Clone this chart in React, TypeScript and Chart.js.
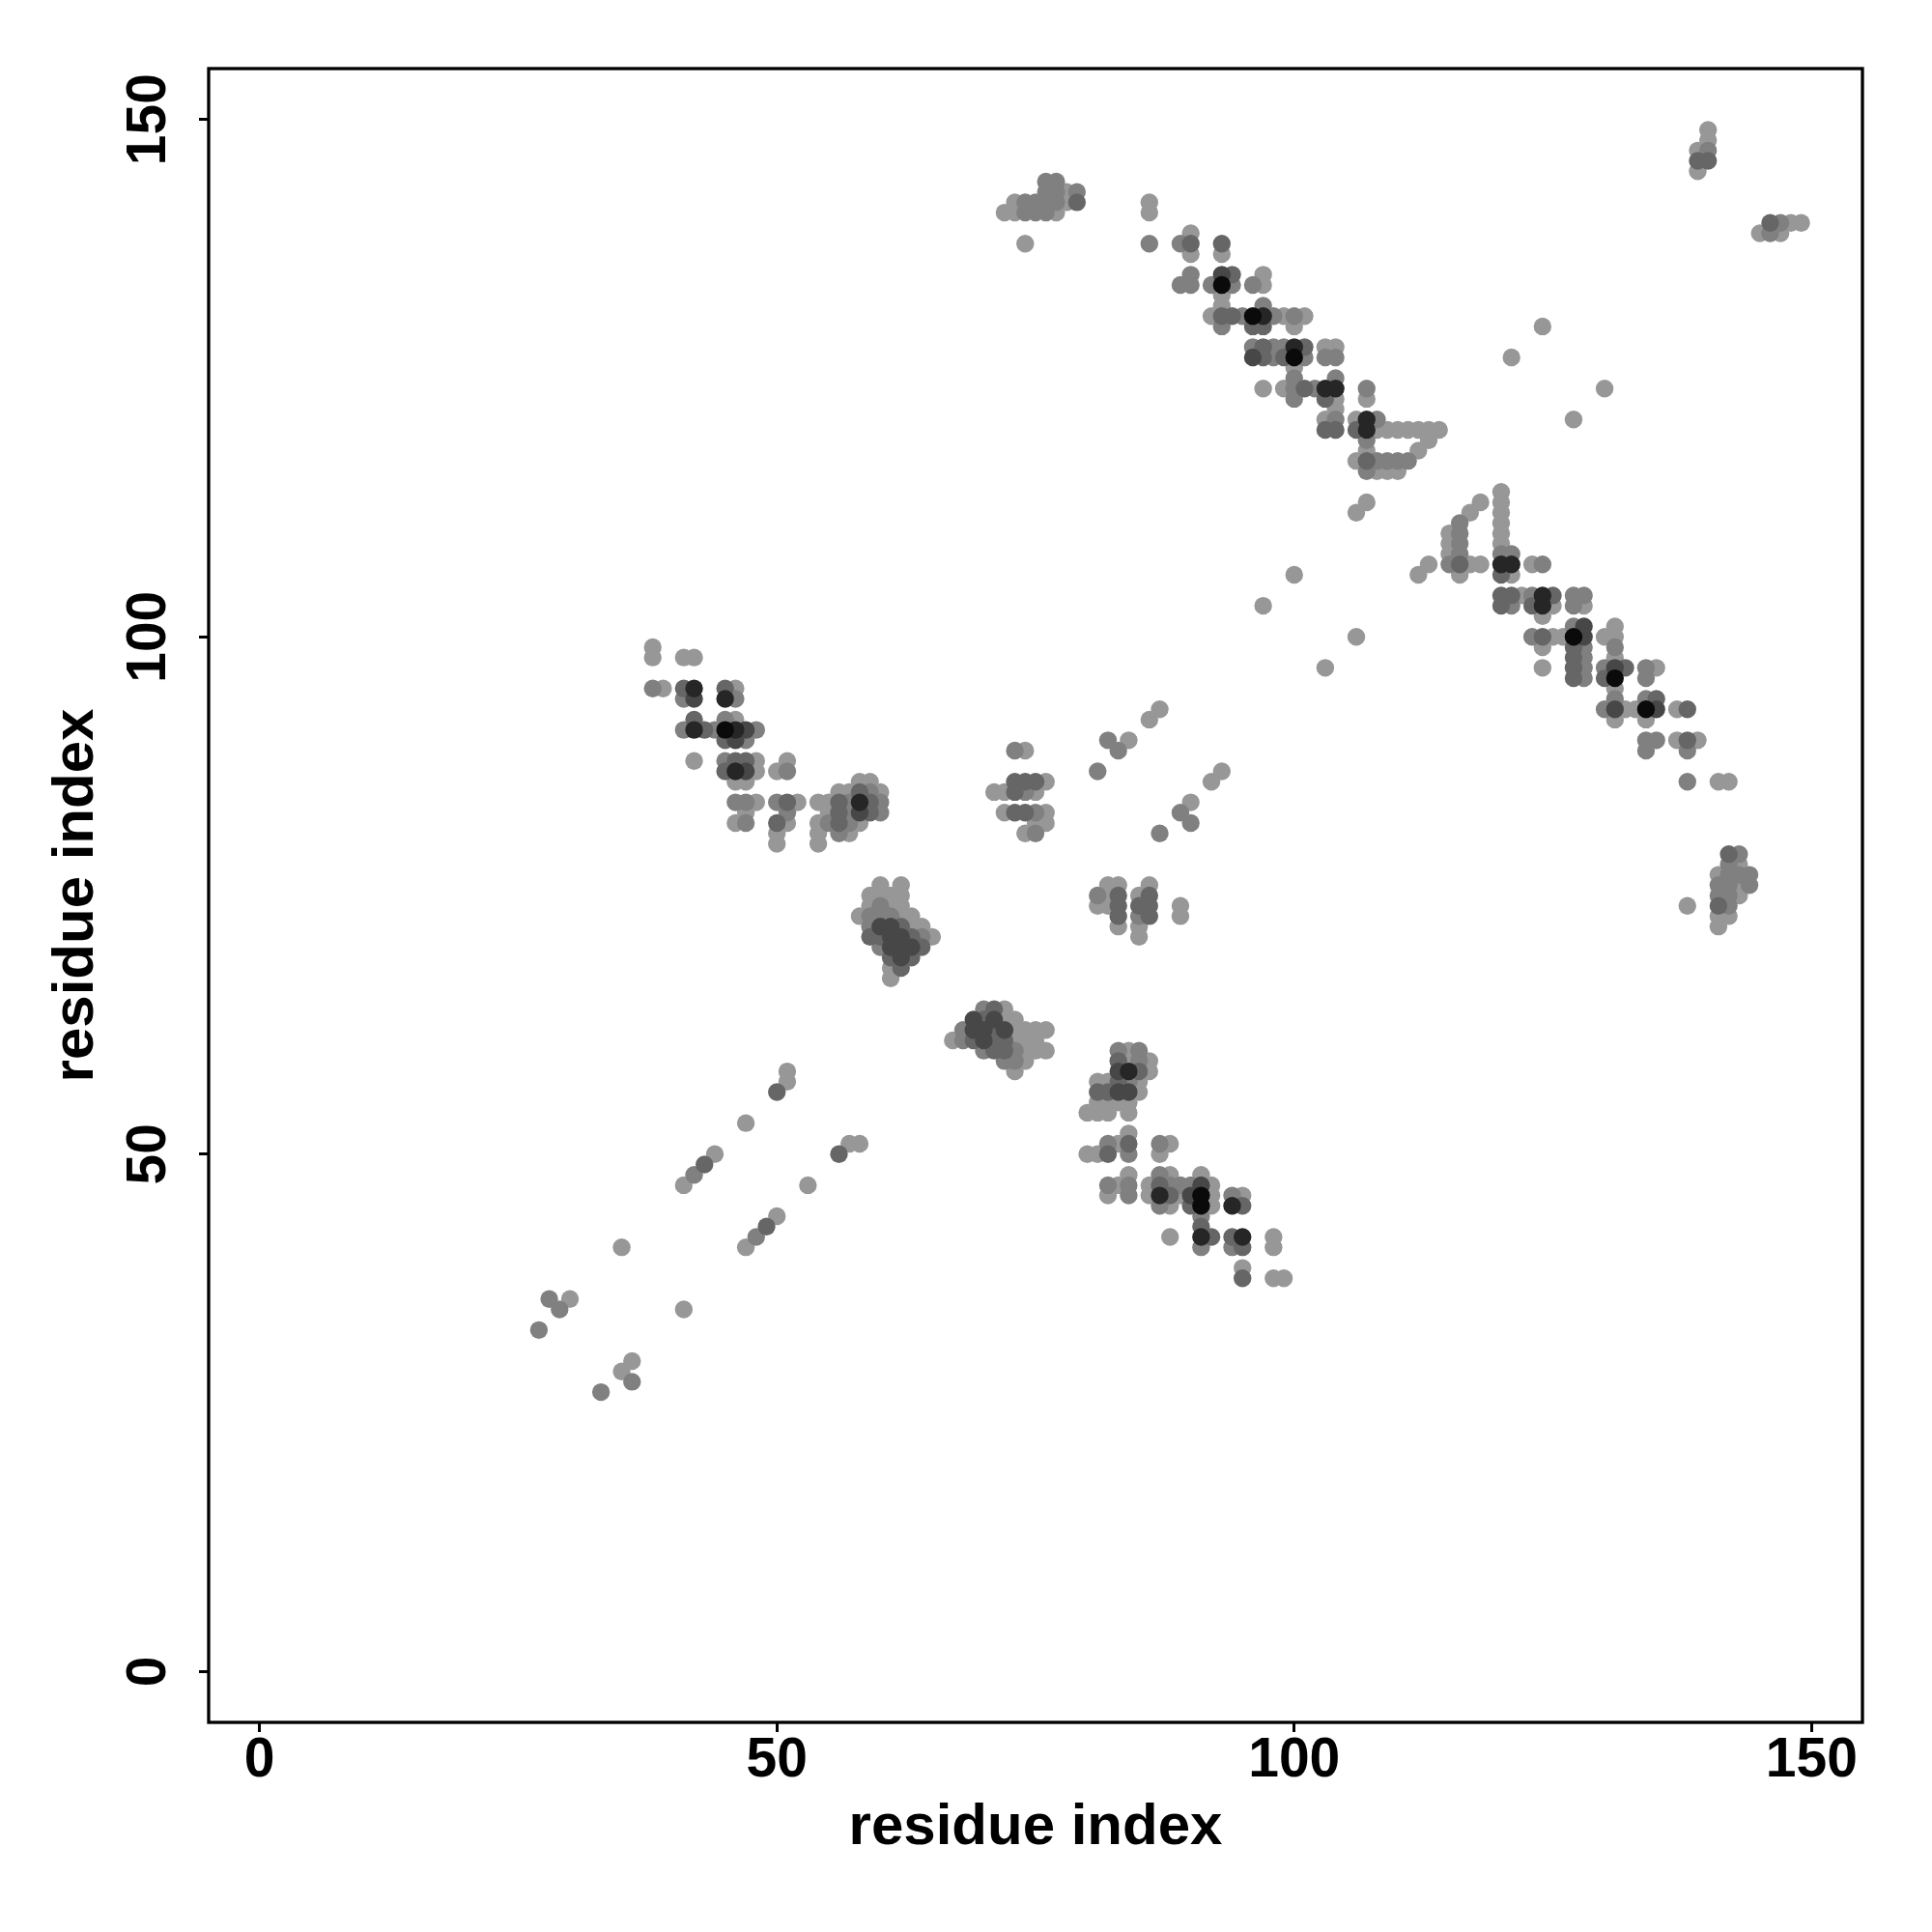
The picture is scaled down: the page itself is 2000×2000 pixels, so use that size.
import { useEffect, useRef } from "react";
import { Chart, registerables } from "chart.js";

Chart.register(...registerables);

// ---------- data ----------
const axisTicks = [0, 50, 100, 150];
const axisTitleX = "residue index";
const axisTitleY = "residue index";
const axisMin = -4.92;
const axisMax = 154.92;
// contact strength level -> gray
const grayLevels = ["#979797", "#808080", "#666666", "#474747", "#262626", "#0a0a0a"];

type Contact = [number, number, number]; // [i, j, level]

const lowerLeftContacts: Contact[] = [
  [51, 58, 1], [51, 57, 1], [50, 56, 3], [47, 53, 1], [44, 50, 1], [43, 49, 3], [42, 48, 2], [41, 47, 1],
  [56, 50, 3], [57, 51, 1], [58, 51, 1], [53, 47, 1], [50, 44, 1], [49, 43, 3], [48, 42, 2], [47, 41, 1],
  [35, 41, 1], [41, 35, 1], [28, 36, 2], [30, 36, 1], [29, 35, 2], [27, 33, 2],
  [36, 30, 1], [35, 29, 1], [36, 28, 2], [33, 27, 2],
];

const midLeftContacts: Contact[] = [
  [38, 99, 1], [38, 98, 1], [41, 98, 1], [42, 98, 1],
  [38, 95, 2], [39, 95, 1], [41, 95, 3], [42, 95, 5], [41, 94, 2], [42, 94, 4],
  [45, 95, 3], [46, 95, 1], [45, 94, 5], [46, 94, 2],
  [42, 92, 3], [45, 92, 2], [46, 92, 1],
  [41, 91, 2], [42, 91, 5], [43, 91, 3], [44, 91, 2], [45, 91, 6], [46, 91, 5], [47, 91, 4], [48, 91, 2],
  [45, 90, 3], [46, 90, 4], [47, 90, 2],
  [42, 88, 1], [45, 88, 2], [46, 88, 3], [47, 88, 3], [48, 88, 1],
  [45, 87, 3], [46, 87, 5], [47, 87, 4], [48, 87, 1],
  [46, 86, 1], [47, 86, 1],
  [50, 87, 1], [51, 88, 1], [51, 87, 2],
  [46, 84, 2], [47, 84, 2], [48, 84, 1], [50, 84, 2], [51, 84, 3], [52, 84, 1], [54, 84, 1],
  [47, 83, 1], [46, 82, 1], [47, 82, 2], [51, 83, 2], [50, 82, 3], [51, 82, 1], [50, 81, 1], [50, 80, 1],
  [54, 82, 1], [54, 81, 1], [54, 80, 1],
  [58, 86, 1], [59, 86, 1],
  [56, 85, 1], [57, 85, 1], [58, 85, 3], [59, 85, 2], [60, 85, 1],
  [55, 84, 1], [56, 84, 3], [57, 84, 2], [58, 84, 5], [59, 84, 3], [60, 84, 2],
  [55, 83, 1], [56, 83, 3], [57, 83, 2], [58, 83, 4], [59, 83, 3], [60, 83, 2],
  [55, 82, 2], [56, 82, 3], [57, 82, 2], [58, 82, 1],
  [56, 81, 2], [57, 81, 1],
];

const centreContacts: Contact[] = [
  [60, 76, 1], [62, 76, 1],
  [59, 75, 1], [60, 75, 1], [61, 75, 1], [62, 75, 1],
  [59, 74, 1], [60, 74, 2], [61, 74, 1], [62, 74, 1],
  [58, 73, 1], [59, 73, 2], [60, 73, 2], [61, 73, 2], [62, 73, 1], [63, 73, 1],
  [59, 72, 2], [60, 72, 4], [61, 72, 4], [62, 72, 3], [63, 72, 1], [64, 72, 1],
  [59, 71, 3], [60, 71, 3], [61, 71, 4], [62, 71, 4], [63, 71, 3], [64, 71, 2], [65, 71, 1],
  [60, 70, 2], [61, 70, 4], [62, 70, 4], [63, 70, 4], [64, 70, 3],
  [61, 69, 3], [62, 69, 4], [63, 69, 3],
  [61, 68, 1], [62, 68, 3], [61, 67, 1],
  [70, 64, 2], [71, 64, 3], [72, 64, 1],
  [69, 63, 4], [70, 63, 3], [71, 63, 4], [72, 63, 1], [73, 63, 1],
  [68, 62, 2], [69, 62, 4], [70, 62, 4], [71, 62, 3], [72, 62, 4], [73, 62, 1], [74, 62, 1], [75, 62, 1], [76, 62, 1],
  [67, 61, 1], [68, 61, 2], [69, 61, 3], [70, 61, 4], [71, 61, 3], [72, 61, 3], [73, 61, 1], [74, 61, 1], [75, 61, 1],
  [70, 60, 2], [71, 60, 3], [72, 60, 3], [73, 60, 2], [74, 60, 1], [75, 60, 1], [76, 60, 1],
  [72, 59, 2], [73, 59, 2], [74, 59, 1], [73, 58, 1],
];

const middleContacts: Contact[] = [
  [73, 89, 2], [74, 89, 1],
  [73, 86, 3], [74, 86, 3], [75, 86, 3], [76, 86, 1],
  [71, 85, 1], [72, 85, 1], [73, 85, 3], [74, 85, 2], [75, 85, 1],
  [72, 83, 1], [73, 83, 3], [74, 83, 3], [75, 83, 2], [76, 83, 1],
  [75, 82, 1], [76, 82, 1], [74, 81, 1], [75, 81, 2],
  [81, 87, 2], [82, 90, 2], [83, 89, 2], [84, 90, 1], [86, 92, 1], [87, 93, 1],
  [87, 81, 2], [89, 83, 2], [90, 82, 2], [90, 84, 1], [92, 86, 1], [93, 87, 1],
  [81, 75, 2], [81, 74, 1], [82, 76, 1], [82, 75, 1], [82, 74, 1],
  [83, 76, 1], [83, 75, 3], [83, 74, 3], [83, 73, 3], [83, 72, 1],
  [85, 75, 1], [85, 74, 3], [85, 73, 2], [85, 72, 1], [85, 71, 1],
  [86, 76, 1], [86, 75, 3], [86, 74, 3], [86, 73, 3], [89, 74, 1], [89, 73, 1],
];

const lowerRightContacts: Contact[] = [
  [83, 60, 2], [84, 60, 1], [85, 60, 2],
  [83, 59, 3], [84, 59, 1], [85, 59, 2], [86, 59, 1],
  [83, 58, 4], [84, 58, 5], [85, 58, 3], [86, 58, 1],
  [81, 57, 1], [82, 57, 1], [83, 57, 3], [84, 57, 2], [85, 57, 1],
  [81, 56, 3], [82, 56, 3], [83, 56, 4], [84, 56, 4], [85, 56, 1],
  [81, 55, 1], [82, 55, 1], [83, 55, 1], [84, 55, 1],
  [80, 54, 1], [81, 54, 1], [82, 54, 1], [84, 54, 1],
  [84, 52, 1],
  [82, 51, 2], [83, 51, 1], [84, 51, 3], [87, 51, 2], [88, 51, 1],
  [80, 50, 1], [81, 50, 1], [82, 50, 3], [84, 50, 2], [87, 50, 1],
  [84, 48, 1], [87, 48, 2], [88, 48, 1], [91, 48, 1],
  [82, 47, 2], [83, 47, 1], [84, 47, 2], [86, 47, 1], [87, 47, 3], [88, 47, 2], [89, 47, 2], [90, 47, 2], [91, 47, 4], [92, 47, 1],
  [82, 46, 1], [84, 46, 2], [86, 46, 1], [87, 46, 5], [88, 46, 3], [89, 46, 1], [90, 46, 4], [91, 46, 6], [92, 46, 1], [94, 46, 2], [95, 46, 1],
  [87, 45, 2], [88, 45, 1], [90, 45, 3], [91, 45, 6], [92, 45, 1], [94, 45, 5], [95, 45, 3],
  [91, 44, 2], [91, 43, 3],
  [88, 42, 1], [91, 42, 5], [92, 42, 3], [94, 42, 3], [95, 42, 5], [98, 42, 1],
  [91, 41, 2], [94, 41, 2], [95, 41, 3], [98, 41, 1],
  [95, 39, 1], [95, 38, 3], [98, 38, 1], [99, 38, 1],
];

const upperBandContacts: Contact[] = [
  [76, 144, 2], [77, 144, 2],
  [76, 143, 2], [77, 143, 2], [78, 143, 1], [79, 143, 2],
  [73, 142, 1], [74, 142, 2], [75, 142, 2], [76, 142, 2], [77, 142, 2], [78, 142, 1], [79, 142, 3],
  [72, 141, 1], [73, 141, 1], [74, 141, 2], [75, 141, 2], [76, 141, 2], [77, 141, 1],
  [74, 138, 1], [86, 142, 1], [86, 141, 1], [86, 138, 2],
  [89, 138, 2], [90, 139, 1], [90, 138, 3], [90, 137, 1], [93, 138, 3], [93, 137, 1],
  [90, 135, 2], [93, 135, 4], [94, 135, 3], [97, 135, 1],
  [89, 134, 2], [90, 134, 2], [92, 134, 2], [93, 134, 6], [94, 134, 2], [96, 134, 2], [97, 134, 1],
  [93, 133, 1], [93, 132, 1], [97, 132, 2],
  [92, 131, 1], [93, 131, 3], [94, 131, 3], [95, 131, 2], [96, 131, 6], [97, 131, 5], [98, 131, 2], [99, 131, 1], [100, 131, 2], [101, 131, 1],
  [93, 130, 2], [96, 130, 3], [97, 130, 3], [100, 130, 1],
  [96, 128, 2], [97, 128, 3], [98, 128, 2], [99, 128, 2], [100, 128, 5], [101, 128, 3], [103, 128, 1], [104, 128, 1],
  [96, 127, 4], [97, 127, 3], [98, 127, 2], [99, 127, 3], [100, 127, 6], [101, 127, 2], [103, 127, 2], [104, 127, 2],
  [100, 126, 1], [100, 125, 2], [104, 125, 2],
  [97, 124, 1], [99, 124, 1], [100, 124, 2], [101, 124, 3], [102, 124, 2], [103, 124, 5], [104, 124, 5], [107, 124, 2],
  [100, 123, 2], [103, 123, 3], [104, 123, 1], [107, 123, 1], [104, 122, 1],
  [103, 121, 1], [104, 121, 2], [106, 121, 1], [107, 121, 5], [108, 121, 2],
  [103, 120, 3], [104, 120, 3], [106, 120, 3], [107, 120, 5], [108, 120, 1], [109, 120, 1], [110, 120, 1],
  [111, 120, 1], [112, 120, 1], [113, 120, 1], [114, 120, 1],
  [113, 119, 1], [112, 118, 1], [107, 119, 2], [107, 118, 1],
  [106, 117, 1], [107, 117, 3], [108, 117, 2], [109, 117, 2], [110, 117, 2], [111, 117, 2],
  [107, 116, 2], [108, 116, 1], [109, 116, 1], [110, 116, 1],
  [107, 113, 1], [106, 112, 1],
];

const rightBandContacts: Contact[] = [
  [115, 110, 1], [115, 109, 1], [115, 108, 1], [115, 107, 2],
  [116, 111, 2], [116, 110, 2], [116, 109, 2], [116, 108, 2], [116, 107, 3], [116, 106, 1],
  [117, 112, 1], [118, 113, 1], [120, 114, 1], [120, 113, 1], [120, 112, 1], [120, 111, 1], [120, 110, 1], [120, 109, 1],
  [120, 108, 2], [121, 108, 2],
  [117, 107, 1], [118, 107, 1], [120, 107, 5], [121, 107, 5], [123, 107, 1], [124, 107, 2],
  [120, 106, 3], [121, 106, 1],
  [120, 104, 3], [121, 104, 3], [122, 104, 1], [123, 104, 2], [124, 104, 5], [125, 104, 3], [127, 104, 2], [128, 104, 2],
  [120, 103, 3], [121, 103, 2], [123, 103, 3], [124, 103, 5], [125, 103, 1], [127, 103, 2], [128, 103, 1],
  [124, 102, 1], [127, 101, 2], [128, 101, 4], [131, 101, 1],
  [123, 100, 2], [124, 100, 3], [125, 100, 1], [126, 100, 1], [127, 100, 6], [128, 100, 4], [130, 100, 1], [131, 100, 1],
  [124, 99, 1], [127, 99, 3], [128, 99, 2], [131, 99, 2],
  [127, 98, 3], [128, 98, 2], [131, 98, 1],
  [124, 97, 1], [127, 97, 3], [128, 97, 2], [130, 97, 2], [131, 97, 4], [132, 97, 3], [134, 97, 2], [135, 97, 1],
  [127, 96, 3], [128, 96, 2], [130, 96, 3], [131, 96, 6], [134, 96, 2],
  [131, 95, 1], [131, 94, 2], [134, 94, 2], [135, 94, 3],
  [130, 93, 2], [131, 93, 4], [132, 93, 1], [133, 93, 1], [134, 93, 6], [135, 93, 4], [137, 93, 1], [138, 93, 3],
  [131, 92, 1], [134, 92, 1],
  [134, 90, 2], [135, 90, 2], [137, 90, 1], [138, 90, 3], [139, 90, 1],
  [134, 89, 2], [138, 89, 2],
  [138, 86, 2], [141, 86, 1], [142, 86, 1],
  [138, 74, 1],
  [142, 79, 3], [143, 79, 2], [142, 78, 2], [143, 78, 1],
  [141, 77, 1], [142, 77, 2], [143, 77, 2], [144, 77, 2],
  [141, 76, 2], [142, 76, 2], [143, 76, 1], [144, 76, 2],
  [141, 75, 2], [142, 75, 2], [143, 75, 1],
  [141, 74, 3], [142, 74, 2], [141, 73, 1], [142, 73, 1], [141, 72, 1],
];

const scatteredContacts: Contact[] = [
  [124, 130, 1], [121, 127, 1], [130, 124, 1], [127, 121, 1],
  [100, 106, 1], [97, 103, 1], [106, 100, 1], [103, 97, 1], [112, 106, 1], [113, 107, 1],
];

const topRightContacts: Contact[] = [
  [140, 149, 1], [140, 148, 1], [140, 147, 2], [140, 146, 3], [139, 147, 1], [139, 146, 3], [139, 145, 1],
  [145, 139, 1], [146, 140, 3], [147, 140, 2], [148, 140, 1], [149, 140, 1], [146, 139, 2], [147, 139, 1],
];

// ---------- chart ----------
const FONT = "'Liberation Sans', Arial, Helvetica, sans-serif";

const framePlugin = {
  id: "frame",
  afterDraw(chart: any) {
    const { ctx, chartArea } = chart;
    ctx.save();
    ctx.strokeStyle = "#000";
    ctx.lineWidth = 3.3;
    ctx.strokeRect(chartArea.left, chartArea.top, chartArea.right - chartArea.left, chartArea.bottom - chartArea.top);
    ctx.restore();
  },
};

const whiteBg = {
  id: "whiteBg",
  beforeDraw(chart: any) {
    const { ctx, width, height } = chart;
    ctx.save();
    ctx.fillStyle = "#fff";
    ctx.fillRect(0, 0, width, height);
    ctx.restore();
  },
};

export default function App() {
  const ref = useRef<HTMLCanvasElement | null>(null);

  useEffect(() => {
    if (!ref.current) return;
    const all: Contact[] = [
      ...lowerLeftContacts,
      ...midLeftContacts,
      ...centreContacts,
      ...middleContacts,
      ...lowerRightContacts,
      ...upperBandContacts,
      ...rightBandContacts,
      ...scatteredContacts,
      ...topRightContacts,
    ];
    const ordered = all
      .map((c, k) => ({ c, k }))
      .sort((a, b) => a.c[2] - b.c[2] || a.k - b.k)
      .map((o) => o.c);

    const tickFont = { family: FONT, size: 57, weight: "bold" as const, lineHeight: 1 };
    const titleFont = { family: FONT, size: 60, weight: "bold" as const, lineHeight: 1 };

    const chart = new Chart(ref.current, {
      type: "scatter",
      data: {
        datasets: [
          {
            data: ordered.map(([x, y]) => ({ x, y })),
            backgroundColor: ordered.map((c) => grayLevels[c[2] - 1]),
            pointRadius: 9.2,
            pointBorderWidth: 0,
            borderWidth: 0,
            pointHoverRadius: 9.2,
          },
        ],
      },
      options: {
        responsive: false,
        animation: false,
        devicePixelRatio: 1,
        events: [],
        layout: { padding: { left: 0, top: 71, right: 72, bottom: 0 } },
        plugins: { legend: { display: false }, tooltip: { enabled: false } },
        scales: {
          x: {
            type: "linear",
            position: "bottom",
            min: axisMin,
            max: axisMax,
            afterBuildTicks: (s: any) => {
              s.ticks = axisTicks.map((v) => ({ value: v }));
            },
            afterFit: (s: any) => {
              s.height = 217;
            },
            ticks: {
              font: tickFont,
              color: "#000",
              padding: 2,
              autoSkip: false,
              minRotation: 0,
              maxRotation: 0,
            },
            grid: { drawOnChartArea: false, drawTicks: true, tickLength: 10, lineWidth: 3, color: "#000" },
            border: { display: false },
            title: { display: true, text: axisTitleX, font: titleFont, color: "#000", padding: { top: 0, bottom: 78 } },
          },
          y: {
            type: "linear",
            position: "left",
            min: axisMin,
            max: axisMax,
            afterBuildTicks: (s: any) => {
              s.ticks = axisTicks.map((v) => ({ value: v }));
            },
            afterFit: (s: any) => {
              s.width = 216;
            },
            ticks: {
              font: tickFont,
              color: "#000",
              padding: 3,
              autoSkip: false,
              minRotation: 90,
              maxRotation: 90,
              crossAlign: "center",
            },
            grid: { drawOnChartArea: false, drawTicks: true, tickLength: 10, lineWidth: 3, color: "#000" },
            border: { display: false },
            title: { display: true, text: axisTitleY, font: titleFont, color: "#000", padding: { top: 49, bottom: 0 } },
          },
        },
      },
      plugins: [whiteBg, framePlugin],
    });
    return () => chart.destroy();
  }, []);

  return (
    <div style={{ position: "absolute", left: 0, top: 0, width: 2000, height: 2000, background: "#fff" }}>
      <canvas ref={ref} width={2000} height={2000} style={{ width: 2000, height: 2000, display: "block" }} />
    </div>
  );
}
